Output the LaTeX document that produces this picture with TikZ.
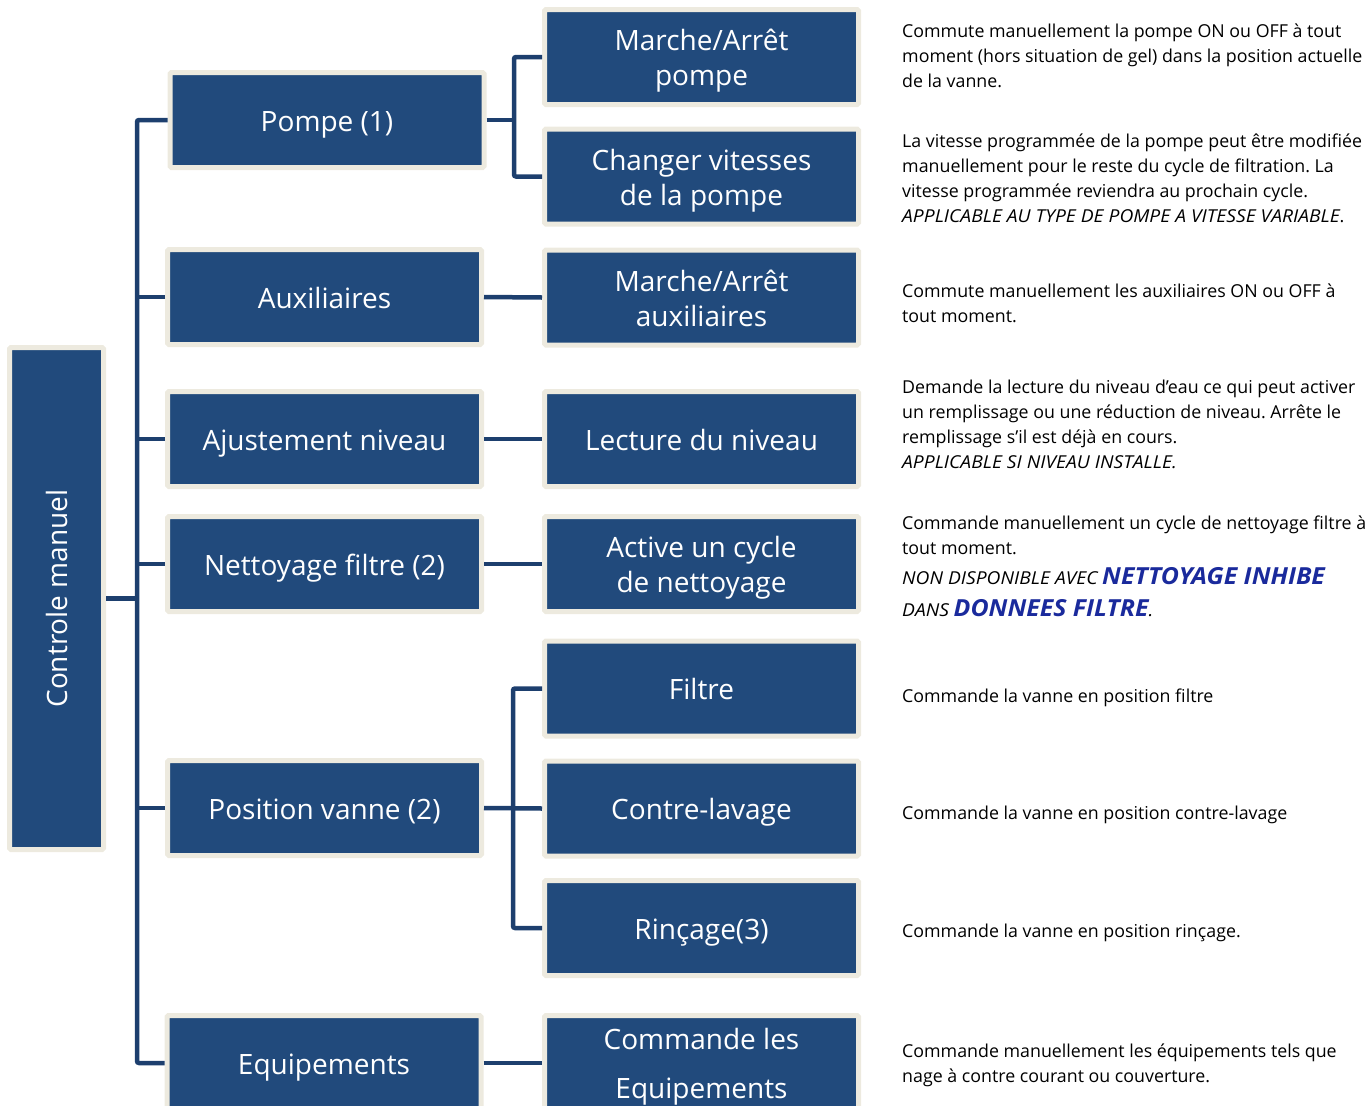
\documentclass[tikz,border=0pt]{standalone}
\usepackage{fontspec}
\setmainfont{Open Sans}
\usetikzlibrary{positioning}
\definecolor{boxblue}{HTML}{214A7C}
\definecolor{boxrim}{HTML}{EDEADF}
\definecolor{linkblue}{HTML}{1D3F6E}
\definecolor{hiblue}{HTML}{1A2A9C}
\newcommand{\capsit}[1]{{\itshape\addfontfeatures{FakeStretch=1.08}#1}}
\newcommand{\hitxt}[1]{{\color{hiblue}\fontsize{23.5}{25}\selectfont\bfseries\itshape\addfontfeatures{FakeStretch=1.06}#1}}
\frenchspacing
\begin{document}
\begin{tikzpicture}[x=1pt,y=-1pt,
	box/.style={draw=boxrim,line width=5pt,fill=boxblue,text=white,rounded corners=1.5pt,
		minimum width=314pt,minimum height=95pt,align=center,inner sep=0pt,
		font=\fontsize{28}{35}\selectfont,
		execute at begin node={\rule[-10.5pt]{0pt}{#1}}},
	box/.default=43pt,
	link/.style={draw=linkblue,line width=4.5pt,rounded corners=2pt},
	note/.style={anchor=west,align=left,inner sep=0pt,font=\fontsize{17.8}{25}\selectfont}]
	\useasboundingbox (0,0) rectangle (1369,1106);
	\clip (0,0) rectangle (1369,1106);
	% root
	\node[box,minimum width=94pt,minimum height=502pt] (root) at (56.5,598.5) {};
	\node[rotate=90,text=white,font=\fontsize{28}{35}\selectfont] (rootlbl) at (root.center) {Controle manuel};
	% first level
	\node[box] (pompe) at (327,120) {Pompe (1)};
	\node[box] (aux) at (324.5,297) {Auxiliaires};
	\node[box] (niveau) at (324.5,439) {Ajustement niveau};
	\node[box] (nett) at (324.5,564) {Nettoyage filtre (2)};
	\node[box] (vanne) at (324.5,808) {Position vanne (2)};
	\node[box] (equip) at (324,1063) {Equipements};
	% second level
	\node[box=78pt] (mapompe) at (701.5,57) {Marche/Arrêt\\pompe};
	\node[box=78pt] (vitesse) at (701.5,176.5) {Changer vitesses\\de la pompe};
	\node[box=78pt] (maaux) at (701.5,297.5) {Marche/Arrêt\\auxiliaires};
	\node[box] (lecture) at (701.5,439) {Lecture du niveau};
	\node[box=78pt] (cycle) at (701.5,564) {Active un cycle\\de nettoyage};
	\node[box] (filtre) at (701.5,688.5) {Filtre};
	\node[box] (contre) at (701.5,808.5) {Contre-lavage};
	\node[box] (rincage) at (701.5,928) {Rinçage(3)};
	\node[box=92pt,font=\fontsize{28}{49}\selectfont] (cequip) at (701.5,1063) {Commande les\\Equipements};
	% connectors
	\coordinate (trunk) at (137,0);
	\coordinate (fork1) at (514,0);
	\coordinate (fork2) at (513,0);
	\draw[link] (pompe.west) -| (trunk |- root.east) |- (equip.west);
	\draw[link] (root.east) -- (root.east -| trunk);
	\foreach \n in {aux,niveau,nett,vanne}
		\draw[link] (\n.west) -- (\n.west -| trunk);
	\draw[link] (mapompe.west) -| (fork1 |- pompe.east) |- (vitesse.west);
	\draw[link] (pompe.east) -- (pompe.east -| fork1);
	\draw[link] (aux.east) -- (maaux.west);
	\draw[link] (niveau.east) -- (lecture.west);
	\draw[link] (nett.east) -- (cycle.west);
	\draw[link] (filtre.west) -| (fork2 |- vanne.east) |- (rincage.west);
	\draw[link] (vanne.east) -- (contre.west);
	\draw[link] (equip.east) -- (cequip.west);
	% notes
	\node[note] (t1) at (902,56) {Commute manuellement la pompe ON ou OFF à tout\\moment (hors situation de gel) dans la position actuelle\\de la vanne.};
	\node[note] (t2) at (902,178.5) {La vitesse programmée de la pompe peut être modifiée\\manuellement pour le reste du cycle de filtration. La\\vitesse programmée reviendra au prochain cycle.\\\capsit{APPLICABLE AU TYPE DE POMPE A VITESSE VARIABLE}.};
	\node[note] (t3) at (902,303.5) {Commute manuellement les auxiliaires ON ou OFF à\\tout moment.};
	\node[note] (t4) at (902,424.5) {Demande la lecture du niveau d’eau ce qui peut activer\\un remplissage ou une réduction de niveau. Arrête le\\remplissage s’il est déjà en cours.\\\capsit{APPLICABLE SI NIVEAU INSTALLE.}};
	\node[note] (t5) at (902,566) {Commande manuellement un cycle de nettoyage filtre à\\tout moment.\\[5pt]\capsit{NON DISPONIBLE AVEC} \hitxt{NETTOYAGE INHIBE}\\[7pt]\capsit{DANS} \hitxt{DONNEES FILTRE}\capsit{.}};
	\node[note] (t6) at (902,698) {Commande la vanne en position filtre};
	\node[note] (t7) at (902,815) {Commande la vanne en position contre-lavage};
	\node[note] (t8) at (902,933) {Commande la vanne en position rinçage.};
	\node[note] (t9) at (902,1065.5) {Commande manuellement les équipements tels que\\nage à contre courant ou couverture.};
\end{tikzpicture}
\end{document}
